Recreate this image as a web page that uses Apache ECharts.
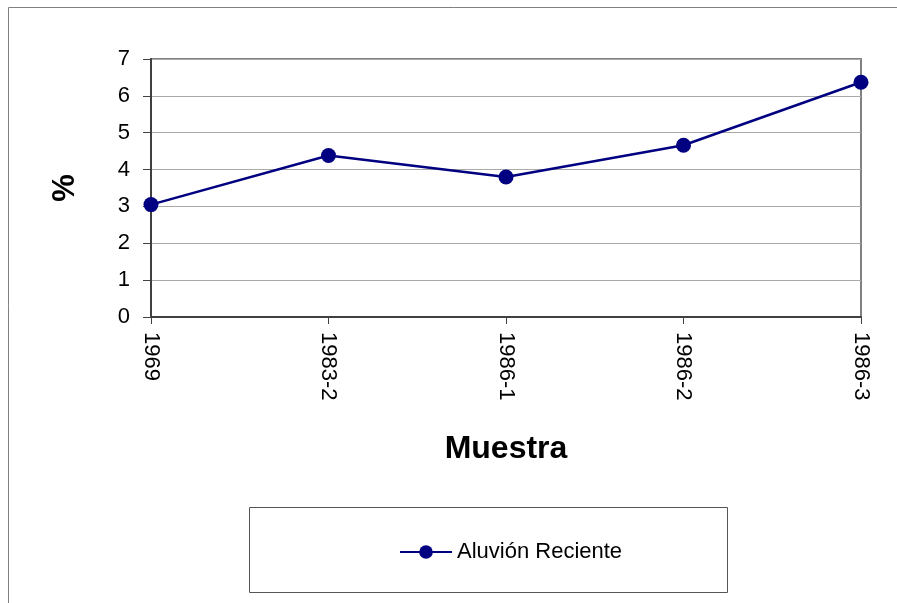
<!DOCTYPE html>
<html style="height: 100%">
<head>
    <meta charset="utf-8">
    <title>Aluvión Reciente</title>
</head>
<body style="height: 100%; margin: 0">
    <div id="container" style="width: 897px; height: 603px"></div>
    <script type="text/javascript" src="https://cdn.jsdelivr.net/npm/echarts@6/dist/echarts.min.js"></script>
    <script type="text/javascript">
        var categories = ['1969', '1983-2', '1986-1', '1986-2', '1986-3'];
        var values = [3.05, 4.38, 3.8, 4.66, 6.37];
        var seriesName = 'Aluvión Reciente';

        var font = 'Liberation Sans, Arial, sans-serif';
        var dom = document.getElementById("container");
        var myChart = echarts.init(dom);

        var option = {
            backgroundColor: '#fff',
            animation: false,
            textStyle: { fontFamily: font },
            grid: {
                left: 151, top: 59, right: 36, bottom: 286,
                show: true, borderColor: '#808080', borderWidth: 2
            },
            graphic: [
                { type: 'rect', shape: { x: 8.5, y: 7.5, width: 1000, height: 1000 },
                  style: { fill: null, stroke: '#808080', lineWidth: 1 }, z: -10 },
                { type: 'rect', shape: { x: 249.5, y: 507.5, width: 478, height: 85 },
                  style: { fill: '#fff', stroke: '#555', lineWidth: 1 }, z: -5 }
            ],
            legend: {
                data: [seriesName],
                left: 394, top: 536,
                itemWidth: 52, itemHeight: 17, itemGap: 6,
                textStyle: { fontFamily: font, fontSize: 22, color: '#000' }
            },
            xAxis: {
                type: 'category',
                data: categories,
                boundaryGap: false,
                name: 'Muestra',
                nameLocation: 'middle',
                nameGap: 116,
                nameTextStyle: { fontSize: 32, fontWeight: 'bold', color: '#000', fontFamily: font },
                axisLine: { lineStyle: { color: '#404040', width: 2 } },
                axisTick: { length: 7, lineStyle: { color: '#404040' } },
                axisLabel: { rotate: -90, fontSize: 22, color: '#000', margin: 15, fontFamily: font },
                splitLine: { show: false }
            },
            yAxis: {
                type: 'value',
                min: 0, max: 7, interval: 1,
                name: '%',
                nameLocation: 'middle',
                nameRotate: 90,
                nameGap: 70,
                nameTextStyle: { fontSize: 31, fontWeight: 'bold', color: '#000', fontFamily: font },
                axisLine: { show: true, lineStyle: { color: '#404040', width: 2 } },
                axisTick: { show: true, length: 8, lineStyle: { color: '#404040' } },
                axisLabel: { fontSize: 22, color: '#000', margin: 21, fontFamily: font },
                splitLine: { lineStyle: { color: '#aaaaaa', width: 1 } }
            },
            series: [{
                name: seriesName,
                type: 'line',
                data: values,
                symbol: 'circle',
                symbolSize: 15,
                lineStyle: { color: '#000080', width: 2.5 },
                itemStyle: { color: '#000080' }
            }]
        };
        myChart.setOption(option, true);
    </script>
</body>
</html>
